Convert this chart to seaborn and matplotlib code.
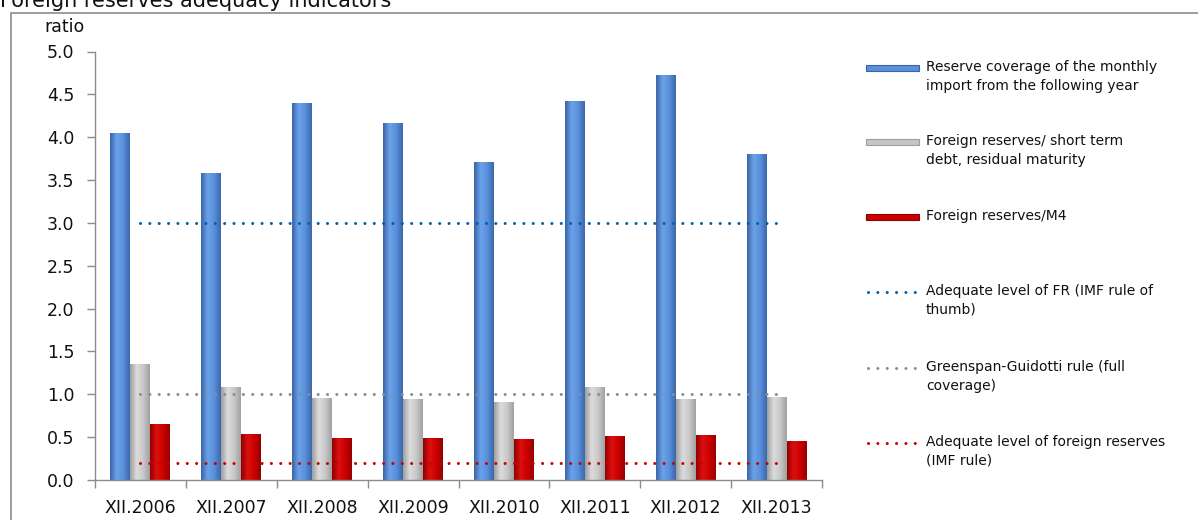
import numpy as np
import pandas as pd
import matplotlib
matplotlib.use("Agg")
import matplotlib.pyplot as plt
import seaborn as sns
from matplotlib.colors import LinearSegmentedColormap
from matplotlib.lines import Line2D
from matplotlib.patches import Rectangle

# ---------------- data ----------------
years = ["XII.2006", "XII.2007", "XII.2008", "XII.2009",
         "XII.2010", "XII.2011", "XII.2012", "XII.2013"]
import_cover = [4.05, 3.58, 4.40, 4.17, 3.71, 4.42, 4.73, 3.80]
short_term_debt = [1.35, 1.08, 0.96, 0.95, 0.91, 1.09, 0.95, 0.97]
fr_m4 = [0.65, 0.54, 0.49, 0.49, 0.48, 0.51, 0.53, 0.455]
imf_thumb = [3.0, 3.0, 3.0, 3.0, 3.0, 3.0, 3.0, 3.0]
greenspan = [1.0, 1.0, 1.0, 1.0, 1.0, 1.0, 1.0, 1.0]
imf_rule = [0.2, 0.2, 0.2, 0.2, 0.2, 0.2, 0.2, 0.2]

bar_series = ["Reserve coverage of the monthly\nimport from the following year",
              "Foreign reserves/ short term\ndebt, residual maturity",
              "Foreign reserves/M4"]
line_series = ["Adequate level of FR (IMF rule of\nthumb)",
               "Greenspan-Guidotti rule (full\ncoverage)",
               "Adequate level of foreign reserves\n(IMF rule)"]
y_ticks = [0.0, 0.5, 1.0, 1.5, 2.0, 2.5, 3.0, 3.5, 4.0, 4.5, 5.0]

bar_colors = ["#5A8FDA", "#C6C6C6", "#CC0000"]
bar_grads = [["#3A64A6", "#6CA2EA", "#5890DA", "#3C67AA"],
             ["#9E9E9E", "#DCDCDC", "#C8C8C8", "#A0A0A0"],
             ["#900000", "#DE1010", "#CC0000", "#940000"]]
line_colors = ["#0060A8", "#8C8C8C", "#CC0000"]

bars_df = pd.DataFrame({
    "year": years * 3,
    "value": import_cover + short_term_debt + fr_m4,
    "series": [bar_series[0]] * len(years) + [bar_series[1]] * len(years) + [bar_series[2]] * len(years),
})

# ---------------- figure ----------------
sns.set_theme(style="white")
plt.rcParams["font.family"] = ["DejaVu Sans"]

W, H = 1198, 520
fig = plt.figure(figsize=(W / 100, H / 100), dpi=100)
ax = fig.add_axes([95 / W, 1 - 480 / H, (822 - 95) / W, (480 - 51.5) / H])

sns.barplot(data=bars_df, x="year", y="value", hue="series",
            palette=bar_colors, width=0.66, gap=0, ax=ax, legend=False,
            saturation=1, edgecolor="none", linewidth=0)

# gradient shading on the bars
for patch in list(ax.patches):
    fc = patch.get_facecolor()
    idx = int(np.argmin([np.sum((np.array(matplotlib.colors.to_rgba(c)) - np.array(fc)) ** 2)
                         for c in bar_colors]))
    cmap = LinearSegmentedColormap.from_list("g", bar_grads[idx])
    x0, y0 = patch.get_x(), patch.get_y()
    w, h = patch.get_width(), patch.get_height()
    if h <= 0:
        continue
    grad = np.linspace(0, 1, 64).reshape(1, -1)
    im = ax.imshow(grad, extent=[x0, x0 + w, y0, y0 + h], aspect="auto",
                   cmap=cmap, zorder=patch.get_zorder() + 0.1, interpolation="bicubic")
    im.set_clip_path(patch)

dot_style = (0, (0.01, 3.05))
for vals, col in zip([imf_thumb, greenspan, imf_rule], line_colors):
    sns.lineplot(x=years, y=vals, ax=ax, color=col, linewidth=2.2,
                 linestyle=dot_style, dash_capstyle="round", zorder=5, legend=False)

ax.set_xlim(-0.5, len(years) - 0.5)
ax.set_ylim(0, 5)
ax.set_yticks(y_ticks)
ax.set_yticklabels([f"{v:.1f}" for v in y_ticks])
ax.set_xticks(range(len(years)))
ax.set_xticklabels(years)
ax.set_xticks(np.arange(-0.5, len(years), 1.0), minor=True)
ax.set_xlabel("")
ax.set_ylabel("")

for side in ["top", "right"]:
    ax.spines[side].set_visible(False)
for side in ["left", "bottom"]:
    ax.spines[side].set_color("#8C8C8C")
    ax.spines[side].set_linewidth(1.0)

ax.tick_params(axis="x", which="major", length=0, pad=14, labelsize=12.5, colors="#111111")
ax.tick_params(axis="x", which="minor", length=6, width=1, color="#8C8C8C", bottom=True)
ax.tick_params(axis="y", which="major", length=6, width=1, color="#8C8C8C", left=True,
               pad=9, labelsize=12.5, labelcolor="#111111")
ax.grid(False)

# axis unit label
fig.text(64 / W, 1 - 27 / H, "ratio", ha="center", va="center", fontsize=12.5, color="#111111")

# title (partly cut at the top like the reference)
fig.text(0.0, 1 - 7 / H, "Foreign reserves adequacy indicators", ha="left", va="baseline",
         fontsize=15, color="#111111")

# chart-area border
fig.add_artist(Rectangle((11 / W, -0.05), 1.2, 1 - 13 / H + 0.05, transform=fig.transFigure,
                         fill=False, edgecolor="#8C8C8C", linewidth=1.2, zorder=0))

# legend (manual, handles aligned with first text line)
leg_x0, leg_x1, txt_x = 866 / W, 919 / W, 926 / W
leg_y = [68, 142, 217, 292, 368, 443]
for i, lbl in enumerate(bar_series + line_series):
    yy = 1 - leg_y[i] / H
    if i < 3:
        fig.add_artist(Rectangle((leg_x0, yy - 3 / H), leg_x1 - leg_x0, 6 / H,
                                 transform=fig.transFigure, facecolor=bar_colors[i],
                                 edgecolor=bar_grads[i][0], linewidth=0.8))
    else:
        fig.add_artist(Line2D([leg_x0 + 2 / W, leg_x1], [yy, yy], transform=fig.transFigure,
                              color=line_colors[i - 3], linewidth=2.2, linestyle=dot_style,
                              dash_capstyle="round"))
    fig.text(txt_x, yy, lbl, ha="left", va="top", fontsize=10, color="#111111",
             linespacing=1.45, transform=fig.transFigure,
             ).set_y(yy + 8 / H)

fig.savefig("out.png", dpi=100)
